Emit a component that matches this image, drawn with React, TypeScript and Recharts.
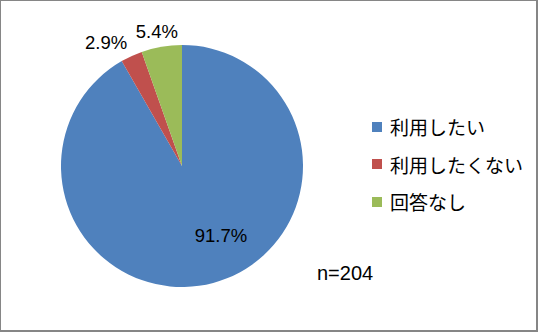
import { PieChart, Pie, Cell, Legend } from 'recharts';

const categories = ['利用したい', '利用したくない', '回答なし'];
const shares = [91.7, 2.9, 5.4];
const colors = ['#4F81BD', '#C0504D', '#9BBB59'];
const sampleNote = 'n=204';

// where each percent label sits: fraction of the radius, and a turn off the slice middle (degrees)
const labelRadius = [0.656, 1.195, 1.127];
const labelTurn = [14.5, 7, 0.9];

const data = categories.map((name, i) => ({ name, value: shares[i], color: colors[i] }));

const RADIAN = Math.PI / 180;

const renderLabel = (props: any) => {
  const { cx, cy, midAngle, outerRadius, index, value } = props;
  const a = (midAngle + labelTurn[index]) * RADIAN;
  const r = outerRadius * labelRadius[index];
  const x = cx + r * Math.cos(a);
  const y = cy - r * Math.sin(a);
  return (
    <text
      x={x}
      y={y}
      textAnchor="middle"
      dominantBaseline="central"
      fill="#000"
      fontSize={18.5}
      fontFamily="'Liberation Sans', Arial, sans-serif"
    >
      {`${value.toFixed(1)}%`}
    </text>
  );
};

const renderLegend = () => (
  <div style={{ fontFamily: "'Noto Sans CJK JP', sans-serif", fontSize: 19, color: '#000' }}>
    {data.map((d) => (
      <div key={d.name} style={{ display: 'flex', alignItems: 'center', height: 37.5 }}>
        <span style={{ width: 10, height: 10, background: d.color, marginRight: 8, display: 'inline-block' }} />
        <span>{d.name}</span>
      </div>
    ))}
  </div>
);

const App = () => {
  return (
    <div
      style={{
        position: 'fixed',
        left: 0,
        top: 0,
        width: 538,
        height: 332,
        boxSizing: 'border-box',
        borderTop: '1px solid #868686',
        borderLeft: '1px solid #868686',
        borderRight: '2px solid #868686',
        borderBottom: '2px solid #868686',
        background: '#fff',
      }}
    >
      <div style={{ position: 'absolute', left: -1, top: -1 }}>
        <PieChart width={538} height={332} margin={{ top: 0, right: 0, bottom: 0, left: 0 }}>
          <Pie
            data={data}
            dataKey="value"
            nameKey="name"
            cx={182}
            cy={166}
            outerRadius={121}
            startAngle={90}
            endAngle={-270}
            stroke="none"
            labelLine={false}
            label={renderLabel}
            isAnimationActive={false}
          >
            {data.map((d) => (
              <Cell key={d.name} fill={d.color} />
            ))}
          </Pie>
          <Legend
            content={renderLegend}
            layout="vertical"
            wrapperStyle={{ position: 'absolute', left: 372, top: 108, width: 160 }}
          />
        </PieChart>
      </div>
      <div
        style={{
          position: 'absolute',
          left: 316,
          top: 261,
          fontFamily: "'Liberation Sans', Arial, sans-serif",
          fontSize: 20,
          color: '#000',
        }}
      >
        {sampleNote}
      </div>
    </div>
  );
};

export default App;
